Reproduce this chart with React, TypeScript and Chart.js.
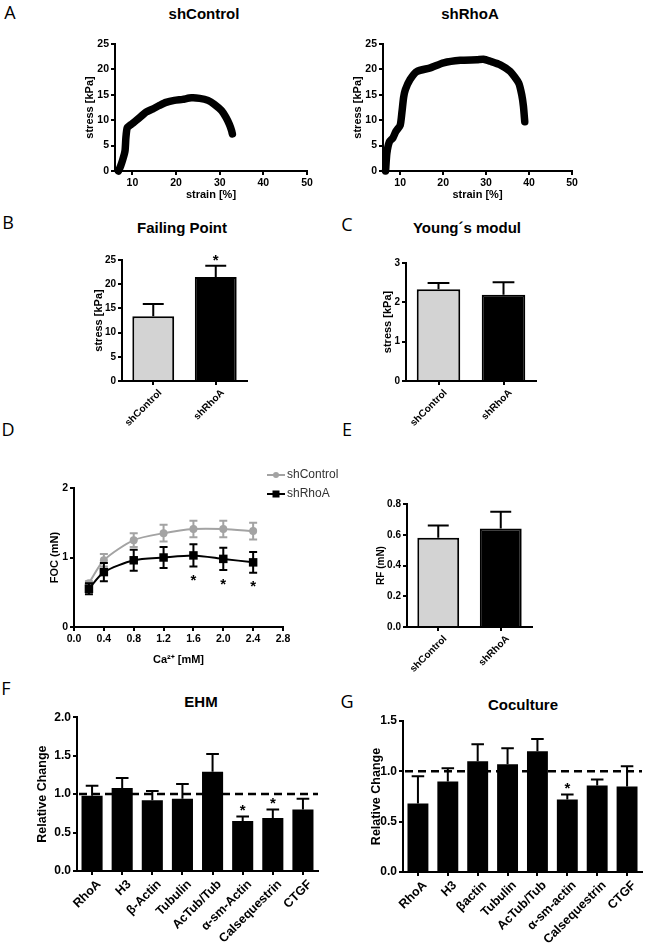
import React, { useEffect, useRef } from 'react';
import { Chart, registerables } from 'chart.js';

Chart.register(...registerables);

const FONT = "'Liberation Sans', Arial, Helvetica, sans-serif";
Chart.defaults.font.family = FONT;
Chart.defaults.color = '#000';

// ---------------- DATA ----------------
// Panel A: stress-strain curves
const strainMin = 6;
const strainMax = 50;
const strainTicks = [10, 20, 30, 40, 50];
const stressTicks = [0, 5, 10, 15, 20, 25];
const controlStrain = [6.8, 7.3, 7.8, 8.3, 8.5, 8.8, 9.6, 10.8, 11.9, 13.1, 14.6, 16.2, 17.7, 19.6, 21.5, 23.5, 25.4, 27.3, 28.8, 30.4, 31.4, 32.2, 32.7, 32.9];
const controlStress = [0, 1.0, 2.3, 4.0, 6.6, 8.5, 9.1, 9.9, 10.7, 11.6, 12.2, 12.9, 13.5, 13.9, 14.1, 14.4, 14.3, 13.9, 13.1, 11.9, 10.6, 9.2, 8.0, 7.3];
const rhoaStrain = [6.6, 6.9, 7.5, 8.3, 9.0, 10.0, 10.4, 10.8, 11.2, 12.3, 13.9, 17.0, 20.1, 24.0, 27.9, 29.4, 31.0, 33.3, 35.6, 37.6, 38.3, 38.7, 39.0];
const rhoaStress = [0, 3.5, 5.8, 6.5, 7.8, 9.0, 11.5, 14.5, 16.0, 18.0, 19.6, 20.3, 21.3, 21.8, 21.9, 22.0, 21.6, 20.9, 19.6, 17.3, 15.0, 12.7, 9.7];

// Panels B, C, E: two groups
const groups = ['shControl', 'shRhoA'];
const failingPoint = [13.4, 21.5];
const failingPointErr = [2.5, 2.3];
const failingPointStars = [false, true];
const failingTicks = [0, 5, 10, 15, 20, 25];

const youngModul = [2.33, 2.19];
const youngModulErr = [0.16, 0.32];
const youngStars = [false, false];
const youngTicks = [0, 1, 2, 3];

const restingForce = [0.58, 0.64];
const restingForceErr = [0.08, 0.11];
const rfStars = [false, false];
const rfTicks = [0, 0.2, 0.4, 0.6, 0.8];

// Panel D: force of contraction vs calcium
const calcium = [0.2, 0.4, 0.8, 1.2, 1.6, 2.0, 2.4];
const focControl = [0.63, 0.96, 1.25, 1.35, 1.41, 1.41, 1.38];
const focControlErr = [0.03, 0.09, 0.1, 0.12, 0.12, 0.12, 0.12];
const focRhoA = [0.55, 0.79, 0.96, 1.0, 1.03, 0.98, 0.93];
const focRhoAErr = [0.08, 0.13, 0.15, 0.15, 0.16, 0.16, 0.15];
const focStars = [false, false, false, false, true, true, true];
const calciumTicks = [0, 0.4, 0.8, 1.2, 1.6, 2.0, 2.4, 2.8];
const focTicks = [0, 1, 2];

// Panels F, G: relative expression
const referenceLevel = 1;
const ehmGenes = ['RhoA', 'H3', 'β-Actin', 'Tubulin', 'AcTub/Tub', 'α-sm-Actin', 'Calsequestrin', 'CTGF'];
const ehmValues = [0.98, 1.08, 0.92, 0.94, 1.29, 0.65, 0.69, 0.8];
const ehmErr = [0.13, 0.13, 0.12, 0.19, 0.23, 0.06, 0.11, 0.14];
const ehmStars = [false, false, false, false, false, true, true, false];
const ehmTicks = [0, 0.5, 1.0, 1.5, 2.0];

const cocGenes = ['RhoA', 'H3', 'βactin', 'Tubulin', 'AcTub/Tub', 'α-sm-actin', 'Calsequestrin', 'CTGF'];
const cocValues = [0.68, 0.9, 1.1, 1.07, 1.2, 0.72, 0.86, 0.85];
const cocErr = [0.27, 0.13, 0.17, 0.16, 0.12, 0.05, 0.06, 0.2];
const cocStars = [false, false, false, false, false, true, false, false];
const cocTicks = [0, 0.5, 1.0, 1.5];

// ---------------- PLUGINS ----------------
const errorBarsPlugin = {
  id: 'errorBars',
  beforeDatasetDraw(chart: any, args: any) {
    const ds: any = chart.data.datasets[args.index];
    const errs: number[] | undefined = ds.errors;
    if (!errs) return;
    const meta = args.meta;
    const yScale = chart.scales[meta.yAxisID];
    const ctx = chart.ctx;
    const both = ds.errorMode === 'both';
    ctx.save();
    ctx.strokeStyle = ds.errorColor || '#000';
    ctx.lineWidth = ds.errorWidth || 2;
    meta.data.forEach((el: any, j: number) => {
      const raw = ds.data[j];
      const v = typeof raw === 'number' ? raw : raw.y;
      const e = errs[j];
      const x = el.x;
      const yTop = yScale.getPixelForValue(v + e);
      const yBase = yScale.getPixelForValue(both ? v - e : v);
      const cap = ds.capWidth != null ? ds.capWidth : el.width * (ds.capRatio || 0.5);
      ctx.beginPath();
      ctx.moveTo(x, yTop);
      ctx.lineTo(x, yBase);
      ctx.moveTo(x - cap / 2, yTop);
      ctx.lineTo(x + cap / 2, yTop);
      if (both) {
        ctx.moveTo(x - cap / 2, yBase);
        ctx.lineTo(x + cap / 2, yBase);
      }
      ctx.stroke();
    });
    ctx.restore();
  },
  afterDatasetsDraw(chart: any) {
    const ctx = chart.ctx;
    chart.data.datasets.forEach((ds: any, i: number) => {
      if (!ds.stars || !ds.errors) return;
      const meta = chart.getDatasetMeta(i);
      const yScale = chart.scales[meta.yAxisID];
      const size = ds.starSize || 15;
      ctx.save();
      ctx.fillStyle = '#000';
      ctx.font = `bold ${size}px ${FONT}`;
      ctx.textAlign = 'center';
      ctx.textBaseline = 'alphabetic';
      meta.data.forEach((el: any, j: number) => {
        if (!ds.stars[j]) return;
        const raw = ds.data[j];
        const v = typeof raw === 'number' ? raw : raw.y;
        const e = ds.errors[j];
        let cy: number;
        if (ds.starPosition === 'below') cy = yScale.getPixelForValue(v - e) + 10;
        else cy = yScale.getPixelForValue(v + e) - 10;
        ctx.fillText('*', el.x, cy + size * 0.58);
      });
      ctx.restore();
    });
  },
};

const refLinePlugin = {
  id: 'refLine',
  beforeDatasetsDraw(chart: any, _args: any, opts: any) {
    if (!opts || opts.value == null) return;
    const y = chart.scales.y.getPixelForValue(opts.value);
    const { left, right } = chart.chartArea;
    const ctx = chart.ctx;
    ctx.save();
    ctx.strokeStyle = '#000';
    ctx.lineWidth = 2.5;
    ctx.setLineDash([8, 5]);
    ctx.beginPath();
    ctx.moveTo(left + 2, y);
    ctx.lineTo(right, y);
    ctx.stroke();
    ctx.restore();
  },
};

const seriesLegendPlugin = {
  id: 'seriesLegend',
  afterDraw(chart: any, _args: any, opts: any) {
    if (!opts || !opts.rows) return;
    const ctx = chart.ctx;
    ctx.save();
    chart.data.datasets.forEach((ds: any, i: number) => {
      const y = opts.rows[i];
      ctx.strokeStyle = ds.borderColor;
      ctx.lineWidth = 2;
      ctx.beginPath();
      ctx.moveTo(opts.lineStart, y);
      ctx.lineTo(opts.lineEnd, y);
      ctx.stroke();
      const mx = (opts.lineStart + opts.lineEnd) / 2;
      ctx.fillStyle = ds.backgroundColor;
      if (ds.pointStyle === 'rect') ctx.fillRect(mx - 3.5, y - 3.5, 7, 7);
      else {
        ctx.beginPath();
        ctx.arc(mx, y, 3, 0, Math.PI * 2);
        ctx.fill();
      }
      ctx.fillStyle = opts.color;
      ctx.font = opts.font;
      ctx.textBaseline = 'middle';
      ctx.textAlign = 'left';
      ctx.fillText(ds.label, opts.textX, y);
    });
    ctx.restore();
  },
};

// ---------------- LAYOUT HELPERS ----------------
type Frame = { left: number; top: number; width: number; height: number; area: [number, number, number, number] };

function frameOpts(f: Frame) {
  const [l, t, r, b] = f.area;
  return {
    padding: { left: 0, top: t - f.top, right: f.left + f.width - r, bottom: 0 },
    yWidth: l - f.left,
    xHeight: f.top + f.height - b,
  };
}

function yTitle(text: string, size: number, f: Frame, centerX: number) {
  const lh = size * 1.2;
  return { display: true, text, color: '#000', font: { size, weight: 'bold' }, padding: { top: centerX - f.left - lh / 2, bottom: 0 } };
}

function xTitle(text: string, size: number, f: Frame, centerY: number) {
  const lh = size * 1.2;
  return { display: true, text, color: '#000', font: { size, weight: 'bold' }, padding: { top: 0, bottom: f.top + f.height - centerY - lh / 2 } };
}

function linearAxis(o: { min: number; max: number; ticks: number[]; decimals: number; fontSize: number; fit: (s: any) => void; title?: any; lineWidth: number }) {
  return {
    type: 'linear',
    min: o.min,
    max: o.max,
    afterBuildTicks: (s: any) => {
      s.ticks = o.ticks.map((v) => ({ value: v }));
    },
    afterFit: o.fit,
    ticks: {
      font: { size: o.fontSize, weight: 'bold' },
      color: '#000',
      padding: 2,
      autoSkip: false,
      minRotation: 0,
      maxRotation: 0,
      callback: (v: any) => Number(v).toFixed(o.decimals),
    },
    grid: { drawOnChartArea: false, drawTicks: true, tickLength: 4, color: '#000', lineWidth: o.lineWidth },
    border: { display: true, color: '#000', width: o.lineWidth },
    title: o.title || { display: false },
  };
}

function categoryAxis(fontSize: number, shift: number, fit: (s: any) => void) {
  return {
    type: 'category',
    offset: true,
    afterFit: fit,
    ticks: { font: { size: fontSize, weight: 'bold' }, color: '#000', padding: 2, autoSkip: false, minRotation: 45, maxRotation: 45, labelOffset: shift },
    grid: { offset: false, drawOnChartArea: false, drawTicks: true, tickLength: 4, color: '#000', lineWidth: 2 },
    border: { display: true, color: '#000', width: 2 },
  };
}

const baseOptions = (fo: any) => ({
  responsive: false,
  animation: false,
  events: [],
  layout: { padding: fo.padding },
});

// ---------------- CHART CONFIGS ----------------
const frameA1: Frame = { left: 60, top: 28, width: 262, height: 176, area: [115, 44, 307, 171] };
const frameA2: Frame = { left: 330, top: 28, width: 250, height: 176, area: [383, 44, 572, 171] };
const frameB: Frame = { left: 60, top: 245, width: 200, height: 190, area: [122, 260, 247, 381] };
const frameC: Frame = { left: 340, top: 245, width: 210, height: 190, area: [406, 263, 536, 381] };
const frameD: Frame = { left: 20, top: 455, width: 325, height: 215, area: [74, 488, 283, 627] };
const frameE: Frame = { left: 340, top: 490, width: 210, height: 190, area: [407, 504, 532, 627] };
const frameF: Frame = { left: 0, top: 708, width: 330, height: 235, area: [77, 717, 318, 871] };
const frameG: Frame = { left: 330, top: 708, width: 321, height: 235, area: [403, 721, 642, 872] };

function stressStrainConfig(f: Frame, strain: number[], stress: number[], yTitleX: number) {
  const fo = frameOpts(f);
  return {
    type: 'line',
    data: {
      datasets: [
        {
          data: strain.map((x, i) => ({ x, y: stress[i] })),
          borderColor: '#000',
          borderWidth: 7.5,
          pointRadius: 0,
          tension: 0.2,
          borderCapStyle: 'round',
          borderJoinStyle: 'round',
          fill: false,
          clip: false,
        },
      ],
    },
    options: {
      ...baseOptions(fo),
      plugins: { legend: { display: false }, tooltip: { enabled: false } },
      scales: {
        x: linearAxis({ min: strainMin, max: strainMax, ticks: strainTicks, decimals: 0, fontSize: 10.5, lineWidth: 2, fit: (s) => { s.height = fo.xHeight; }, title: xTitle('strain [%]', 11, f, 195) }),
        y: linearAxis({ min: 0, max: 25, ticks: stressTicks, decimals: 0, fontSize: 10.5, lineWidth: 2, fit: (s) => { s.width = fo.yWidth; }, title: yTitle('stress [kPa]', 11, f, yTitleX) }),
      },
    },
  };
}

function pairBarConfig(f: Frame, values: number[], errs: number[], stars: boolean[], ticks: number[], decimals: number, yText: string, yTextSize: number, yTitleX: number) {
  const fo = frameOpts(f);
  return {
    type: 'bar',
    data: {
      labels: groups,
      datasets: [
        {
          data: values,
          backgroundColor: ['#d3d3d3', '#000000'],
          borderColor: '#000',
          borderWidth: 2,
          barPercentage: 0.67,
          categoryPercentage: 1,
          errors: errs,
          errorColor: '#000',
          errorWidth: 2,
          capRatio: 0.5,
          stars,
          starPosition: 'above',
        },
      ],
    },
    plugins: [errorBarsPlugin],
    options: {
      ...baseOptions(fo),
      plugins: { legend: { display: false }, tooltip: { enabled: false } },
      scales: {
        x: categoryAxis(10, 7, (s: any) => { s.height = fo.xHeight; }),
        y: linearAxis({ min: 0, max: ticks[ticks.length - 1], ticks, decimals, fontSize: 10, lineWidth: 2, fit: (s) => { s.width = fo.yWidth; }, title: yTitle(yText, yTextSize, f, yTitleX) }),
      },
    },
  };
}

function focConfig() {
  const f = frameD;
  const fo = frameOpts(f);
  const gray = '#a3a3a3';
  return {
    type: 'line',
    data: {
      datasets: [
        {
          label: 'shControl',
          data: calcium.map((x, i) => ({ x, y: focControl[i] })),
          borderColor: gray,
          backgroundColor: gray,
          borderWidth: 2,
          pointStyle: 'circle',
          pointRadius: 4,
          pointBorderWidth: 0,
          tension: 0.25,
          errors: focControlErr,
          errorMode: 'both',
          errorColor: gray,
          errorWidth: 2,
          capWidth: 8,
          order: 1,
        },
        {
          label: 'shRhoA',
          data: calcium.map((x, i) => ({ x, y: focRhoA[i] })),
          borderColor: '#000',
          backgroundColor: '#000',
          borderWidth: 2,
          pointStyle: 'rect',
          pointRadius: 6,
          pointBorderWidth: 0,
          tension: 0.25,
          errors: focRhoAErr,
          errorMode: 'both',
          errorColor: '#000',
          errorWidth: 2,
          capWidth: 8,
          stars: focStars,
          starPosition: 'below',
          order: 0,
        },
      ],
    },
    plugins: [errorBarsPlugin, seriesLegendPlugin],
    options: {
      ...baseOptions(fo),
      plugins: {
        legend: { display: false },
        tooltip: { enabled: false },
        seriesLegend: { rows: [20, 39], lineStart: 247, lineEnd: 265, textX: 267, font: `12px ${FONT}`, color: '#333' },
      },
      scales: {
        x: linearAxis({ min: 0, max: 2.8, ticks: calciumTicks, decimals: 1, fontSize: 10.5, lineWidth: 2, fit: (s) => { s.height = fo.xHeight; }, title: xTitle('Ca²⁺ [mM]', 11, f, 660) }),
        y: linearAxis({ min: 0, max: 2, ticks: focTicks, decimals: 0, fontSize: 10.5, lineWidth: 2, fit: (s) => { s.width = fo.yWidth; }, title: yTitle('FOC (mN)', 11, f, 55) }),
      },
    },
  };
}

function geneBarConfig(f: Frame, genes: string[], values: number[], errs: number[], stars: boolean[], ticks: number[], yTitleX: number) {
  const fo = frameOpts(f);
  return {
    type: 'bar',
    data: {
      labels: genes,
      datasets: [
        {
          data: values,
          backgroundColor: '#000',
          borderWidth: 0,
          barPercentage: 0.7,
          categoryPercentage: 1,
          errors: errs,
          errorColor: '#000',
          errorWidth: 2,
          capRatio: 0.6,
          stars,
          starPosition: 'above',
        },
      ],
    },
    plugins: [refLinePlugin, errorBarsPlugin],
    options: {
      ...baseOptions(fo),
      plugins: { legend: { display: false }, tooltip: { enabled: false }, refLine: { value: referenceLevel } },
      scales: {
        x: categoryAxis(12.5, 7, (s: any) => { s.height = fo.xHeight; }),
        y: linearAxis({ min: 0, max: ticks[ticks.length - 1], ticks, decimals: 1, fontSize: 12, lineWidth: 2, fit: (s) => { s.width = fo.yWidth; }, title: yTitle('Relative Change', 12.5, f, yTitleX) }),
      },
    },
  };
}

// ---------------- COMPONENTS ----------------
function ChartCanvas({ frame, build }: { frame: Frame; build: () => any }) {
  const ref = useRef<HTMLCanvasElement>(null);
  useEffect(() => {
    const chart = new Chart(ref.current as HTMLCanvasElement, build());
    return () => chart.destroy();
  }, []);
  return (
    <canvas
      ref={ref}
      width={frame.width}
      height={frame.height}
      style={{ position: 'absolute', left: frame.left, top: frame.top, width: frame.width, height: frame.height }}
    />
  );
}

function Label({ text, x, y, size, bold, family }: { text: string; x: number; y: number; size: number; bold?: boolean; family?: string }) {
  return (
    <div
      style={{
        position: 'absolute',
        left: x,
        top: y,
        transform: 'translate(-50%, -50%)',
        fontFamily: family || FONT,
        fontSize: size,
        fontWeight: bold ? 700 : 400,
        lineHeight: 1,
        whiteSpace: 'nowrap',
        color: '#000',
      }}
    >
      {text}
    </div>
  );
}

const LETTER_FONT = "'Open Sans', 'DejaVu Sans', sans-serif";

export default function App() {
  return (
    <div style={{ position: 'absolute', left: 0, top: 0, width: 651, height: 943, background: '#fff', overflow: 'hidden' }}>
      <Label text="A" x={10} y={12} size={18} family={LETTER_FONT} />
      <Label text="B" x={8} y={222} size={18} family={LETTER_FONT} />
      <Label text="C" x={347} y={224} size={18} family={LETTER_FONT} />
      <Label text="D" x={8} y={429} size={18} family={LETTER_FONT} />
      <Label text="E" x={347} y={429} size={18} family={LETTER_FONT} />
      <Label text="F" x={6} y={688} size={18} family={LETTER_FONT} />
      <Label text="G" x={347} y={701} size={18} family={LETTER_FONT} />

      <Label text="shControl" x={204} y={13} size={15} bold />
      <Label text="shRhoA" x={470} y={13} size={15} bold />
      <Label text="Failing Point" x={182} y={227} size={15} bold />
      <Label text="Young´s modul" x={467} y={227} size={15} bold />
      <Label text="EHM" x={201} y={701} size={15} bold />
      <Label text="Coculture" x={523} y={704} size={15} bold />

      <ChartCanvas frame={frameA1} build={() => stressStrainConfig(frameA1, controlStrain, controlStress, 90)} />
      <ChartCanvas frame={frameA2} build={() => stressStrainConfig(frameA2, rhoaStrain, rhoaStress, 358)} />
      <ChartCanvas frame={frameB} build={() => pairBarConfig(frameB, failingPoint, failingPointErr, failingPointStars, failingTicks, 0, 'stress [kPa]', 11, 99)} />
      <ChartCanvas frame={frameC} build={() => pairBarConfig(frameC, youngModul, youngModulErr, youngStars, youngTicks, 0, 'stress [kPa]', 11, 388)} />
      <ChartCanvas frame={frameD} build={focConfig} />
      <ChartCanvas frame={frameE} build={() => pairBarConfig(frameE, restingForce, restingForceErr, rfStars, rfTicks, 1, 'RF (mN)', 10, 381)} />
      <ChartCanvas frame={frameF} build={() => geneBarConfig(frameF, ehmGenes, ehmValues, ehmErr, ehmStars, ehmTicks, 43)} />
      <ChartCanvas frame={frameG} build={() => geneBarConfig(frameG, cocGenes, cocValues, cocErr, cocStars, cocTicks, 377)} />
    </div>
  );
}
